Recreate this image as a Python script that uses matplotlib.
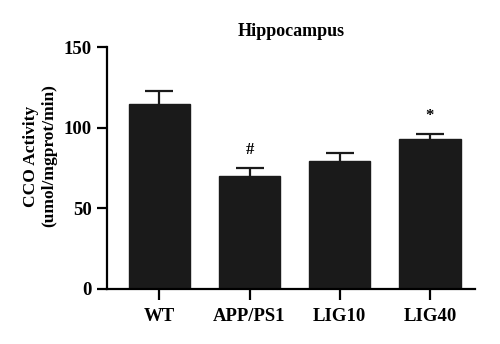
import matplotlib
matplotlib.use("Agg")
import matplotlib.pyplot as plt
import numpy as np

groups = ["WT", "APP/PS1", "LIG10", "LIG40"]
means = [114.7, 70.0, 79.4, 93.2]
errs = [8.2, 5.0, 4.7, 2.9]
marks = ["", "#", "", "*"]

plt.rcParams["font.family"] = ["Liberation Serif", "DejaVu Serif"]
plt.rcParams["font.weight"] = "bold"

fig = plt.figure(figsize=(5, 3.44), dpi=100)
ax = fig.add_axes([0.214, 0.16, 0.736, 0.703])

x = np.arange(len(groups))
ax.bar(x, means, width=0.68, color="#1a1a1a", edgecolor="#1a1a1a", zorder=2)
eb = ax.errorbar(x, means, yerr=[np.zeros(len(errs)), errs], fmt="none",
                 ecolor="#1a1a1a", elinewidth=1.6, capsize=10, capthick=1.6, zorder=1)
eb[1][0].set_visible(False)  # no lower cap

for xi, m, e, t in zip(x, means, errs, marks):
    if t:
        ax.text(xi, m + e + 6, t, ha="center", va="bottom", fontsize=12, fontweight="bold")

ax.set_xlim(-0.58, 3.5)
ax.set_ylim(0, 150)
ax.set_yticks([0, 50, 100, 150])
ax.set_xticks(x)
ax.set_xticklabels(groups)
ax.tick_params(axis="both", direction="out", width=1.6, length=7, labelsize=13.5, pad=4)
ax.tick_params(axis="x", length=8, pad=6)
for lab in ax.get_xticklabels() + ax.get_yticklabels():
    lab.set_fontweight("bold")

for s in ["top", "right"]:
    ax.spines[s].set_visible(False)
for s in ["left", "bottom"]:
    ax.spines[s].set_linewidth(1.6)

ax.set_ylabel("CCO Activity\n(umol/mgprot/min)", fontsize=12.5, fontweight="bold")
ax.yaxis.set_label_coords(-0.135, 0.55)
ax.set_title("Hippocampus", fontsize=13, fontweight="bold", pad=8)

fig.savefig("out.png", dpi=100)
